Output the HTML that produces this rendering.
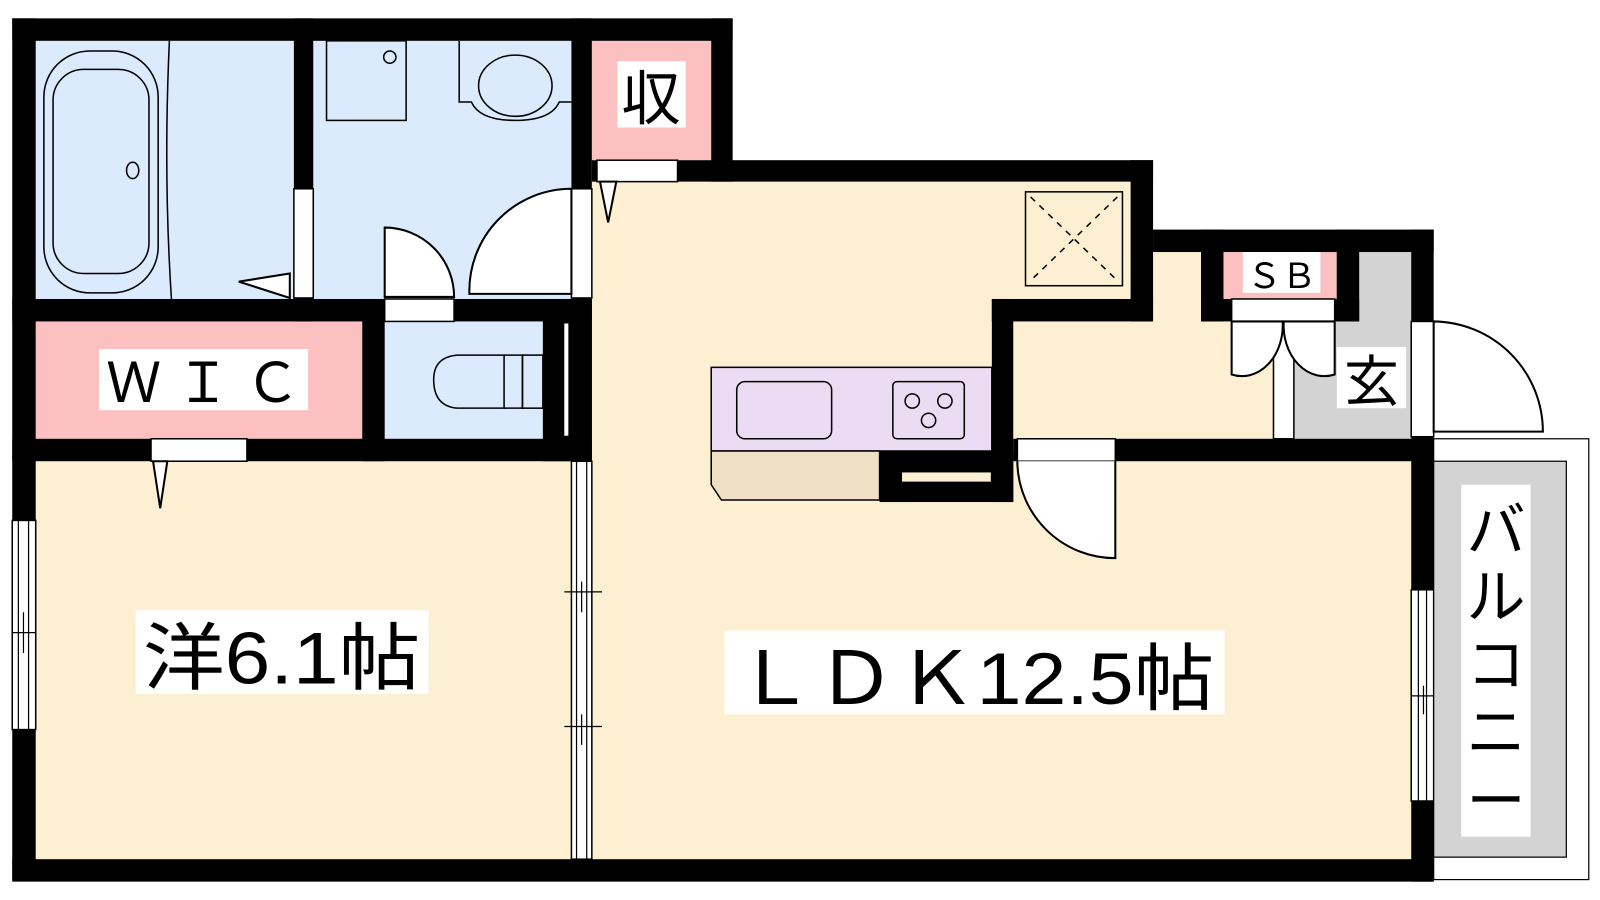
<!DOCTYPE html>
<html><head><meta charset="utf-8"><style>
html,body{margin:0;padding:0;background:#fff;width:1600px;height:900px;overflow:hidden}
svg{display:block}
text{font-family:"Liberation Sans","Noto Sans CJK JP",sans-serif;fill:#000}
</style></head><body>
<svg width="1600" height="900" viewBox="0 0 1568 882" xmlns="http://www.w3.org/2000/svg">
<!-- floors -->
<rect x="35" y="40" width="253" height="253" fill="#dbeafd"/>
<rect x="307" y="40" width="253" height="253" fill="#dbeafd"/>
<rect x="580" y="40" width="117" height="117" fill="#fcc0c0"/>
<rect x="35" y="315" width="320" height="115" fill="#fcc0c0"/>
<rect x="377" y="315" width="155" height="115" fill="#dbeafd"/>
<rect x="35" y="452" width="525" height="390" fill="#fdf0d2"/>
<path d="M580 178 H1108 V293 H972 V430 H1383 V842 H580 Z" fill="#fdf0d2"/>
<rect x="993" y="247" width="275" height="183" fill="#fdf0d2"/>
<rect x="1268" y="247" width="115" height="183" fill="#d3d3d3"/>
<rect x="1199" y="247" width="111" height="46" fill="#fcc0c0"/>
<!-- walls -->
<g fill="#000">
<rect x="12" y="18" width="706" height="22"/>
<rect x="12" y="18" width="23" height="844"/>
<rect x="12" y="842" width="1393" height="22"/>
<rect x="697" y="18" width="21" height="160"/>
<rect x="580" y="157" width="550" height="21"/>
<rect x="1108" y="157" width="22" height="158"/>
<rect x="972" y="293" width="158" height="22"/>
<rect x="972" y="293" width="21" height="199"/>
<rect x="1130" y="225" width="275" height="22"/>
<rect x="1383" y="225" width="22" height="639"/>
<rect x="1177" y="225" width="22" height="90"/>
<rect x="1310" y="225" width="22" height="90"/>
<rect x="1177" y="293" width="155" height="22"/>
<rect x="993" y="430" width="412" height="22"/>
<rect x="862" y="442" width="131" height="50"/>
<rect x="12" y="293" width="568" height="22"/>
<rect x="12" y="430" width="568" height="22"/>
<rect x="288" y="18" width="19" height="297"/>
<rect x="560" y="18" width="20" height="434"/>
<rect x="355" y="293" width="22" height="159"/>
<rect x="532" y="293" width="48" height="159"/>
<rect x="560" y="452" width="20" height="400"/>
</g>
<rect x="884" y="463" width="87" height="9" fill="#fdf0d2"/>
<!-- openings -->
<g fill="#fff" stroke="#000" stroke-width="1.5">
<rect x="553" y="317" width="4" height="110" stroke="none"/>
<rect x="288" y="185" width="19" height="107"/>
<rect x="560" y="185" width="20" height="107"/>
<rect x="377" y="293" width="68" height="22"/>
<rect x="585" y="157" width="79" height="21"/>
<rect x="148" y="430" width="94" height="22"/>
<rect x="997" y="430" width="96" height="22"/>
<rect x="1207" y="293" width="101" height="22"/>
<rect x="1383" y="315" width="22" height="113"/>
<rect x="12" y="510" width="23" height="205"/>
<rect x="560" y="452" width="20" height="390"/>
<rect x="1383" y="578" width="22" height="207"/>
<rect x="1248" y="315" width="20" height="115"/>
</g>
<g stroke="#000" stroke-width="1.2" fill="none">
<line x1="18" y1="510" x2="18" y2="715"/><line x1="28" y1="510" x2="28" y2="715"/>
<line x1="12" y1="620" x2="35" y2="620"/><line x1="23" y1="600" x2="23" y2="640"/>
<line x1="565" y1="452" x2="565" y2="842"/><line x1="575" y1="452" x2="575" y2="842"/>
<line x1="553" y1="580" x2="590" y2="580"/><line x1="553" y1="712" x2="590" y2="712"/>
<line x1="570" y1="570" x2="570" y2="600"/><line x1="570" y1="700" x2="570" y2="730"/>
<line x1="1390" y1="578" x2="1390" y2="785"/><line x1="1398" y1="578" x2="1398" y2="785"/>
<line x1="1383" y1="682" x2="1405" y2="682"/><line x1="1395" y1="672" x2="1395" y2="700"/>
</g>
<!-- doors -->
<g fill="#fff" stroke="#000" stroke-width="2">
<path d="M377 223 A68 68 0 0 1 445 291 H377 Z"/>
<path d="M560 185 A100 100 0 0 0 460 288 H560 Z"/>
<path d="M997 452 V455 A96 96 0 0 0 1093 547 V452"/>
<path d="M1405 315 A108 108 0 0 1 1512 423 H1405 Z"/>
<path d="M1207 315 V367 A40 50 0 0 0 1257 315 Z"/>
<path d="M1308 315 V367 A40 50 0 0 1 1258 315 Z"/>
<path d="M234 276 L284 268 L284 292 Z"/>
<path d="M588 178 L596 218 L604 178 Z"/>
<path d="M150 452 L157 498 L164 452 Z"/>
</g>
<!-- fixtures -->
<g fill="none" stroke="#000" stroke-width="1.5">
<path d="M166 40 Q160 170 168 293"/>
<rect x="43" y="50" width="112" height="237" rx="45"/>
<rect x="52" y="68" width="94" height="200" rx="30"/>
<ellipse cx="130" cy="167" rx="6" ry="8"/>
<rect x="320" y="40" width="78" height="78"/>
<circle cx="382" cy="56" r="6"/>
<path d="M450 40 V100 H462 Q470 118 505 118 Q540 118 548 100 H560"/>
<ellipse cx="505" cy="84" rx="36" ry="30"/>
<path d="M425 372 Q425 350 448 348 H494 V400 H448 Q425 398 425 372 Z"/>
<path d="M494 348 H512 V400 H494"/><rect x="512" y="348" width="20" height="52"/>
<rect x="1005" y="188" width="95" height="92"/>
<path d="M1010 193 L1095 275 M1095 193 L1010 275" stroke-dasharray="6 6"/>
</g>
<!-- kitchen -->
<rect x="697" y="360" width="275" height="82" fill="#ecdcf3" stroke="#000" stroke-width="1.5"/>
<path d="M697 442 H862 V490 H707 L697 475 Z" fill="#efdfc5" stroke="#000" stroke-width="1.5"/>
<rect x="722" y="374" width="93" height="56" rx="8" fill="none" stroke="#000" stroke-width="1.5"/>
<rect x="875" y="374" width="70" height="56" rx="4" fill="none" stroke="#000" stroke-width="1.5"/>
<g fill="none" stroke="#000" stroke-width="1.5"><circle cx="894" cy="393" r="7"/><circle cx="926" cy="393" r="7"/><circle cx="910" cy="412" r="7"/></g>
<!-- balcony -->
<rect x="1405" y="430" width="152" height="432" fill="#fff" stroke="#000" stroke-width="1.2"/>
<rect x="1405" y="452" width="130" height="388" fill="#d3d3d3" stroke="#000" stroke-width="1.2"/>
<rect x="1432" y="475" width="68" height="345" fill="#fff"/>
<g font-size="58" text-anchor="middle"><text x="1466" y="540">バ</text><text x="1466" y="605">ル</text><text x="1466" y="672">コ</text><text x="1466" y="738">ニ</text><text x="1466" y="805">ー</text></g>
<!-- labels -->
<rect x="605" y="60" width="67" height="65" fill="#fff"/><text x="638" y="117" font-size="58" text-anchor="middle">収</text>
<rect x="97" y="342" width="205" height="60" fill="#fff"/><text x="199" y="394" font-size="54" text-anchor="middle" textLength="190" lengthAdjust="spacing">ＷＩＣ</text>
<rect x="1218" y="247" width="76" height="40" fill="#fff"/><text x="1256" y="282" font-size="34" text-anchor="middle">ＳＢ</text>
<rect x="1310" y="340" width="68" height="60" fill="#fff"/><text x="1344" y="393" font-size="54" text-anchor="middle">玄</text>
<rect x="133" y="598" width="287" height="82" fill="#fff"/><text x="276" y="670" font-size="72" text-anchor="middle" textLength="272" lengthAdjust="spacingAndGlyphs">洋6.1帖</text>
<rect x="710" y="618" width="490" height="82" fill="#fff"/><text x="955" y="690" font-size="72" text-anchor="middle" textLength="470" lengthAdjust="spacingAndGlyphs">ＬＤＫ12.5帖</text>
</svg>
</body></html>
